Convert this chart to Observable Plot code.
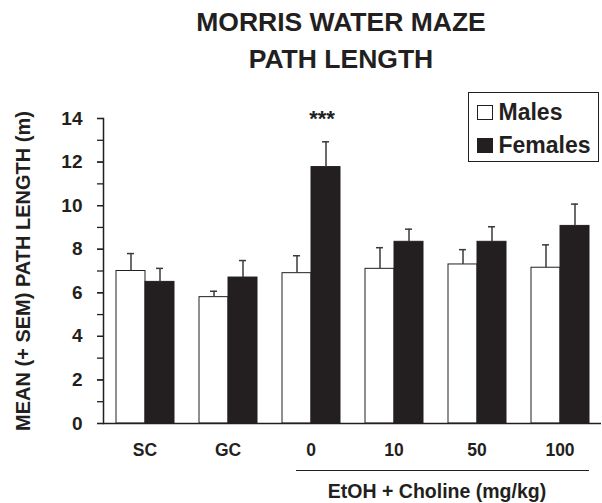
<!DOCTYPE html>
<html>
<head>
<meta charset="utf-8">
<script src="https://cdn.jsdelivr.net/npm/d3@7"></script>
<script src="https://cdn.jsdelivr.net/npm/@observablehq/plot@0.6"></script>
<style>
  html, body { margin: 0; padding: 0; background: white; }
  #wrap { position: relative; width: 602px; height: 503px; overflow: hidden; background: white;
          font-family: "Liberation Sans", Arial, sans-serif; color: #231f20; }
  #chart { position: absolute; left: 0; top: 0; }
  .title { position: absolute; left: 141px; width: 400px; top: 4px; text-align: center;
           font-size: 26.5px; font-weight: bold; line-height: 36.6px; }
  .legend { position: absolute; left: 468px; top: 91.5px; width: 131px; height: 70px; box-sizing: border-box;
            border: 1px solid #231f20; padding: 3px 0 0 7.5px; font-size: 23px; font-weight: bold; }
  .legend .row { line-height: 33px; white-space: nowrap; }
  .legend .sw { display: inline-block; width: 16px; height: 15px; box-sizing: border-box;
                border: 1px solid #231f20; margin-right: 6px; vertical-align: baseline; }
  .xline { position: absolute; left: 296px; width: 293px; top: 470px; border-top: 1.6px solid #231f20; }
  .xtitle { position: absolute; left: 237px; width: 400px; top: 481.5px; text-align: center;
            font-size: 19.5px; font-weight: bold; line-height: 1; white-space: nowrap; }
</style>
</head>
<body>
<div id="wrap">
  <div id="chart"></div>
  <div class="title">MORRIS WATER MAZE<br>PATH LENGTH</div>
  <div class="legend" id="legend"></div>
  <div class="xline"></div>
  <div class="xtitle">EtOH + Choline (mg/kg)</div>
</div>
<script>
// ---- data ----
const groups = ["SC", "GC", "0", "10", "50", "100"];
const sexes = ["Males", "Females"];
const maleMean   = [7.0, 5.8, 6.9, 7.1, 7.3, 7.15];
const maleSem    = [0.8, 0.27, 0.8, 0.97, 0.68, 1.05];
const femaleMean = [6.5, 6.7, 11.77, 8.34, 8.34, 9.07];
const femaleSem  = [0.62, 0.78, 1.16, 0.58, 0.69, 1.0];
const sigGroups  = ["0"];      // group marked as significant
const sigSex     = "Females";
const sigLabel   = "***";
const yTicksMinor = d3.range(0, 15, 1);
const yTicksMajor = d3.range(0, 15, 2);
const colors = ["white", "#231f20"];

const rows = groups.flatMap((g, i) => [
  {group: g, sex: "Males", mean: maleMean[i], sem: maleSem[i]},
  {group: g, sex: "Females", mean: femaleMean[i], sem: femaleSem[i]}
]);
const stars = sigGroups.map(g => {
  const r = rows.find(d => d.group === g && d.sex === sigSex);
  return {group: g, sex: sigSex, top: r.mean + r.sem, label: sigLabel};
});

const ink = "#231f20";
const errInk = "#3a3a3a";

const plot = Plot.plot({
  width: 602,
  height: 503,
  marginTop: 118,
  marginBottom: 80,
  marginLeft: 101,
  marginRight: 0,
  style: {fontFamily: '"Liberation Sans", Arial, sans-serif', color: ink, background: "white"},
  fx: {domain: groups, paddingInner: 0, paddingOuter: 0},
  x: {domain: sexes, paddingInner: 0, paddingOuter: 0.41, axis: null},
  y: {domain: [0, 14]},
  color: {domain: sexes, range: colors},
  marks: [
    Plot.barY(rows, {fx: "group", x: "sex", y: "mean", fill: "sex", stroke: ink, strokeWidth: 1}),
    Plot.ruleX(rows, {fx: "group", x: "sex", y1: "mean", y2: d => d.mean + d.sem, stroke: errInk, strokeWidth: 1.5}),
    Plot.tickY(rows, {fx: "group", x: "sex", y: d => d.mean + d.sem, stroke: errInk, strokeWidth: 1.5, insetLeft: 11, insetRight: 11}),
    Plot.text(stars, {fx: "group", x: "sex", y: "top", text: "label", fontSize: 22, fontWeight: "bold", fill: ink, dy: -23, dx: -4}),
    Plot.ruleY([0], {stroke: ink, strokeWidth: 1.5}),
    Plot.frame({anchor: "left", facetAnchor: "left", stroke: ink, strokeWidth: 1.5}),
    Plot.axisY({ticks: yTicksMinor, tickSize: 6, tickFormat: () => "", label: null, stroke: ink, strokeWidth: 1.3}),
    Plot.axisY({ticks: yTicksMajor, tickSize: 6, tickPadding: 15, fontSize: 19, fontWeight: "bold", fill: ink, stroke: ink, strokeWidth: 1.3, label: null}),
    Plot.axisY({ticks: [], label: "MEAN (+ SEM) PATH LENGTH (m)", labelAnchor: "center", labelArrow: "none", labelOffset: 88, fontSize: 20, fontWeight: "bold", fill: ink}),
    Plot.axisFx({anchor: "bottom", tickSize: 0, tickPadding: 20, fontSize: 17.5, fontWeight: "bold", fill: ink, label: null})
  ]
});
document.getElementById("chart").appendChild(plot);

// legend (HTML), colours from the same colour scale
const col = plot.scale("color");
const legend = d3.select("#legend");
sexes.forEach((s, i) => {
  const row = legend.append("div").attr("class", "row");
  row.append("span").attr("class", "sw").style("background", col.range[i]);
  row.append("span").text(s);
});
</script>
</body>
</html>
